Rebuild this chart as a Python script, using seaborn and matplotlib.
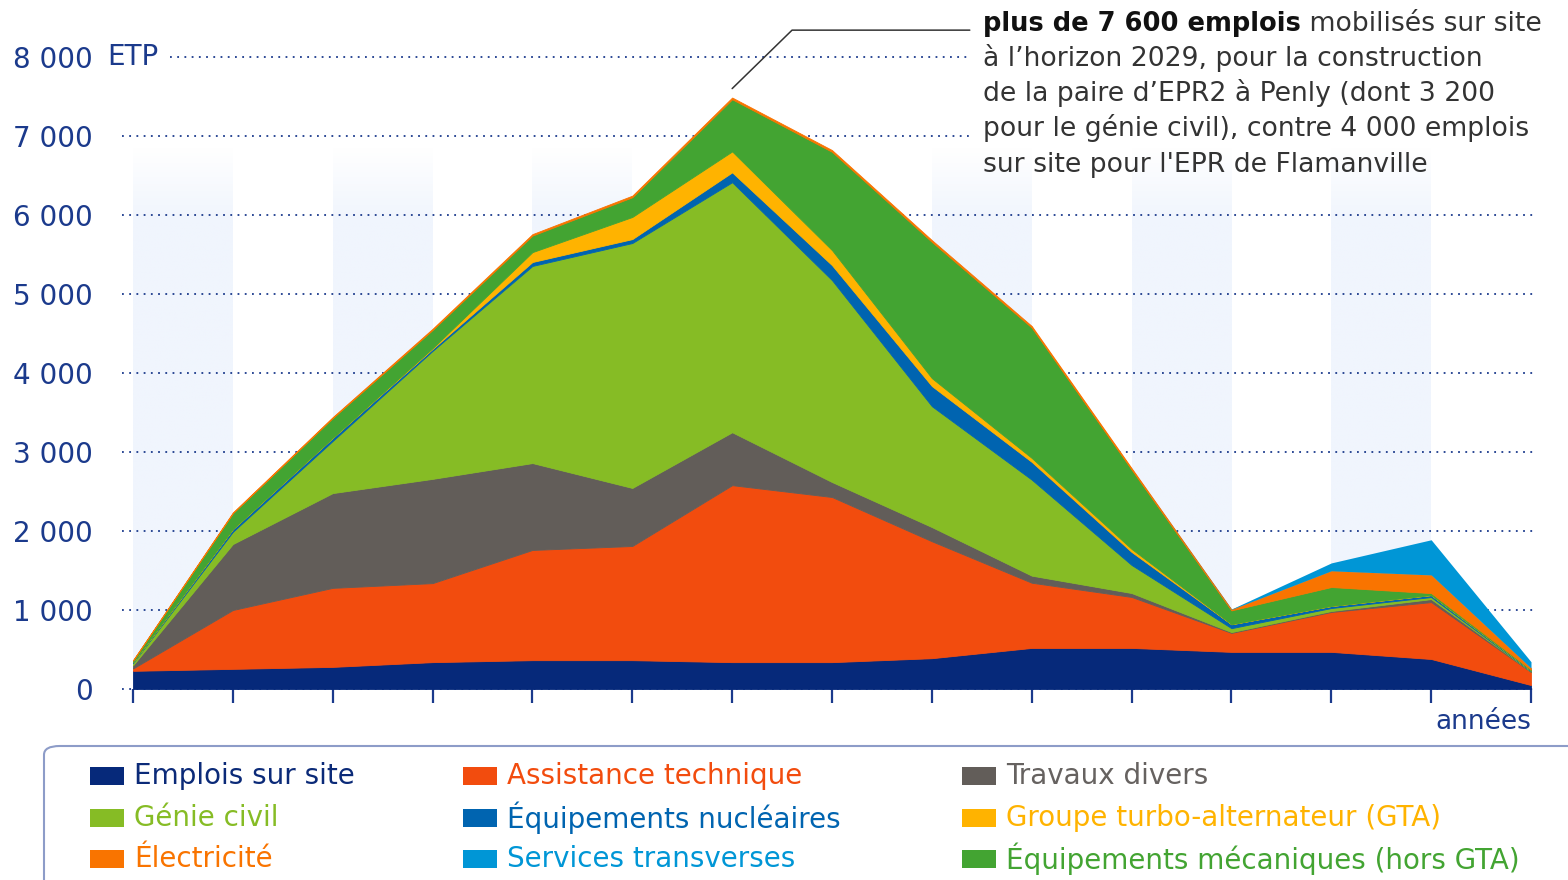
import numpy as np
import matplotlib
matplotlib.use("Agg")
import matplotlib.pyplot as plt
import seaborn as sns
from matplotlib.patches import Rectangle, FancyBboxPatch
from matplotlib.colors import LinearSegmentedColormap
import matplotlib.transforms as mtransforms

# données (ETP par année, 15 points)
annees = list(range(2023, 2038))

emplois_sur_site = [230, 255, 280, 340, 365, 365, 340, 340, 390, 520, 520, 470, 470, 380, 50]
assistance_technique = [30, 745, 1000, 1000, 1395, 1445, 2240, 2090, 1480, 825, 645, 240, 505, 720, 165]
travaux_divers = [40, 835, 1200, 1320, 1100, 735, 670, 190, 180, 90, 50, 10, 12, 38, 5]
genie_civil = [30, 155, 660, 1620, 2495, 3100, 3165, 2555, 1530, 1215, 355, 50, 38, 26, 5]
equipements_nucleaires = [10, 35, 40, 25, 50, 50, 125, 190, 255, 225, 165, 50, 26, 25, 10]
gta = [0, 0, 0, 10, 125, 280, 265, 190, 100, 50, 38, 0, 0, 0, 0]
equipements_mecaniques = [20, 200, 250, 230, 210, 250, 660, 1245, 1725, 1650, 1005, 175, 240, 25, 10]
electricite = [5, 10, 12, 15, 18, 20, 22, 22, 22, 20, 18, 12, 205, 230, 20]
services_transverses = [0, 0, 0, 0, 0, 0, 0, 0, 0, 0, 0, 5, 100, 445, 80]

series = [emplois_sur_site, assistance_technique, travaux_divers, genie_civil,
          equipements_nucleaires, gta, equipements_mecaniques, electricite,
          services_transverses]
libelles = ["Emplois sur site", "Assistance technique", "Travaux divers", "Génie civil",
            "Équipements nucléaires", "Groupe turbo-alternateur (GTA)",
            "Équipements mécaniques (hors GTA)", "Électricité", "Services transverses"]
couleurs = ["#06297a", "#f24c0e", "#625d59", "#86bc25", "#0064b0", "#ffb300",
            "#43a432", "#f97400", "#0096d6"]
couleurs_texte = ["#0b2a78", "#f24c0e", "#666260", "#86bc25", "#0064b0", "#ffb300",
                  "#43a432", "#f97400", "#0096d6"]
# position dans la légende (ligne, colonne)
legende_pos = [(0, 0), (0, 1), (0, 2), (1, 0), (1, 1), (1, 2), (2, 2), (2, 0), (2, 1)]

graduations = list(range(0, 8001, 1000))

sns.set_theme(style="white")
plt.rcParams["font.family"] = ["DejaVu Sans"]

bleu = "#1b3a8c"
W, H = 1568, 880
fig = plt.figure(figsize=(W / 100, H / 100), dpi=100)
ax = fig.add_axes([133 / W, 1 - 689 / H, (1531 - 133) / W, (689 - 57) / H])

x = np.arange(len(annees))
ax.set_xlim(0, len(annees) - 1)
ax.set_ylim(0, 8000)

# bandes de fond alternées (dégradé qui s'efface vers le haut)
cmap_bande = LinearSegmentedColormap.from_list("bande", ["#ffffff", "#f0f5fd"])
hauteur = np.linspace(0, 6850, 200)
grad = np.clip((6850 - hauteur) / 900, 0, 1).reshape(-1, 1)
for i in range(0, len(annees) - 1, 2):
    ax.imshow(grad, extent=[x[i], x[i + 1], 0, 6850], origin="lower", cmap=cmap_bande,
              vmin=0, vmax=1, aspect="auto", zorder=0, interpolation="bilinear")

# lignes de grille pointillées
for g in graduations:
    x0 = 0.37 if g == 8000 else -0.11
    x1 = 8.38 if g >= 7000 else 14.04
    ax.plot([x0, x1], [g, g], color=bleu, lw=1.3, ls=(0, (1, 3)), zorder=1, clip_on=False)

# aires empilées
polys = ax.stackplot(x, *series, colors=couleurs, labels=libelles, zorder=2, lw=0.6,
                     edgecolor="face")
polys[-1].set_linewidth(0)

for s in ax.spines.values():
    s.set_visible(False)

ax.set_xticks(x)
ax.set_xticklabels([])
ax.tick_params(axis="x", direction="out", length=10, width=1.6, color=bleu, bottom=True)
ax.set_yticks(graduations)
ax.set_yticklabels([f"{g // 1000} 000" if g else "0" for g in graduations],
                   fontsize=20, color=bleu)
ax.tick_params(axis="y", length=0, pad=29)
trans = mtransforms.blended_transform_factory(ax.transAxes, ax.transData)
ax.text(-0.0186, 8000, "ETP", transform=trans, ha="left", va="center",
        fontsize=20, color=bleu)

ax.text(14, -420, "années", ha="right", va="center", fontsize=19, color=bleu)

# annotation du pic
ax.plot([6.0, 6.6, 8.38], [7600, 8340, 8340], color="#333333", lw=1.1,
        clip_on=False, zorder=3)
tx = 983 / W
gras = fig.text(tx, 1 - 31 / H, "plus de 7 600 emplois", fontsize=18.5, fontweight="bold",
                color="#111111", va="baseline", ha="left")
fig.canvas.draw()
bb = gras.get_window_extent(fig.canvas.get_renderer())
fig.text(bb.x1 / W, 1 - 31 / H, " mobilisés sur site", fontsize=19.2, color="#333333",
         va="baseline", ha="left")
lignes = ["à l’horizon 2029, pour la construction",
          "de la paire d’EPR2 à Penly (dont 3 200",
          "pour le génie civil), contre 4 000 emplois",
          "sur site pour l'EPR de Flamanville"]
for k, l in enumerate(lignes):
    fig.text(tx, 1 - (66 + 35.2 * k) / H, l, fontsize=19.2, color="#333333",
             va="baseline", ha="left")

# légende manuelle
fig.patches.append(FancyBboxPatch((44 / W, 1 - 900 / H), (1600 - 44) / W, 154 / H,
                                  boxstyle="round,pad=0,rounding_size=0.01",
                                  transform=fig.transFigure, facecolor="white",
                                  edgecolor="#8d9cc8", lw=1.5, zorder=0))
col_x = [90, 463, 962]
row_y = [776, 818, 859]
for lib, c, ct, (r, k) in zip(libelles, couleurs, couleurs_texte, legende_pos):
    fig.patches.append(Rectangle((col_x[k] / W, 1 - (row_y[r] + 9) / H), 34 / W, 18 / H,
                                 transform=fig.transFigure, facecolor=c, edgecolor="none"))
    fig.text((col_x[k] + 44) / W, 1 - row_y[r] / H, lib, fontsize=20, color=ct,
             va="center", ha="left")

fig.savefig("out.png", dpi=100)
